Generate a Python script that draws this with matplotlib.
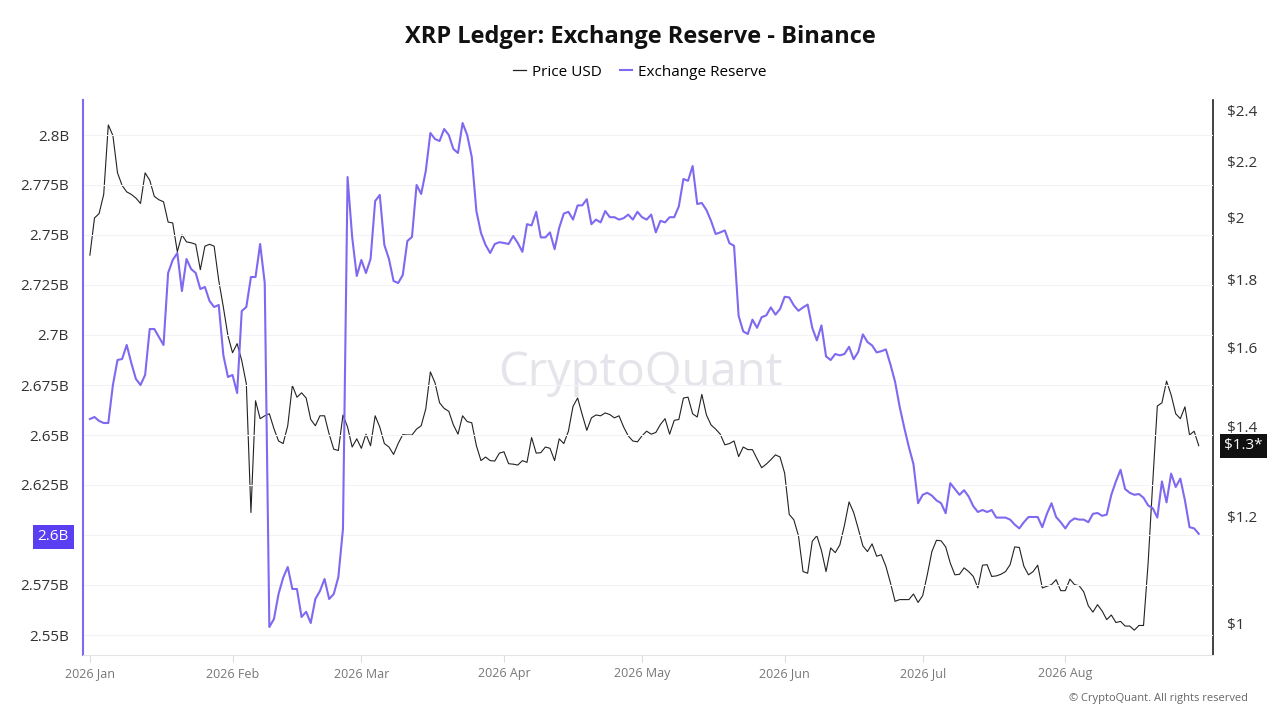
import math
import numpy as np
import pandas as pd
import matplotlib
matplotlib.use("Agg")
import matplotlib.pyplot as plt
import matplotlib.dates as mdates
from matplotlib.ticker import FixedLocator, FuncFormatter, NullLocator

plt.rcParams['font.family'] = ['Open Sans', 'DejaVu Sans']

# daily values, 2026-01-01 .. 2026-08-30
reserve_b = [
    2.658, 2.659, 2.657, 2.656, 2.656, 2.675, 2.6875, 2.688, 2.695, 2.686,
    2.678, 2.675, 2.680, 2.703, 2.703, 2.699, 2.695, 2.731, 2.7375, 2.741,
    2.722, 2.738, 2.733, 2.731, 2.723, 2.724, 2.717, 2.714, 2.715, 2.690,
    2.679, 2.680, 2.671, 2.712, 2.714, 2.729, 2.729, 2.7455, 2.726, 2.554,
    2.558, 2.5705, 2.5786, 2.584, 2.573, 2.573, 2.559, 2.5616, 2.556, 2.568,
    2.572, 2.578, 2.568, 2.5705, 2.579, 2.603, 2.779, 2.749, 2.7295, 2.7375,
    2.731, 2.738, 2.767, 2.770, 2.745, 2.738, 2.727, 2.726, 2.730, 2.747,
    2.749, 2.775, 2.7705, 2.782, 2.801, 2.798, 2.797, 2.803, 2.800, 2.793,
    2.791, 2.806, 2.800, 2.789, 2.762, 2.751, 2.745, 2.741, 2.7455, 2.7464,
    2.746, 2.7455, 2.7495, 2.746, 2.7416, 2.7554, 2.7548, 2.7616, 2.7488, 2.7488,
    2.7513, 2.7429, 2.7536, 2.7607, 2.7616, 2.7577, 2.7648, 2.7648, 2.7679, 2.7554,
    2.7577, 2.7563, 2.762, 2.7589, 2.7589, 2.7577, 2.7584, 2.7602, 2.7577, 2.7616,
    2.7589, 2.7577, 2.7602, 2.7513, 2.7571, 2.7563, 2.7589, 2.7589, 2.7643, 2.778,
    2.7771, 2.7845, 2.7655, 2.766, 2.7625, 2.7571, 2.7505, 2.7513, 2.7523, 2.7459,
    2.7446, 2.7095, 2.7018, 2.7005, 2.7077, 2.7036, 2.7089, 2.7098, 2.7138, 2.7102,
    2.713, 2.7191, 2.7188, 2.7148, 2.7121, 2.7138, 2.7152, 2.7036, 2.6973, 2.7048,
    2.6893, 2.6875, 2.6905, 2.6898, 2.6905, 2.6941, 2.6879, 2.6916, 2.7003, 2.6965,
    2.6948, 2.6913, 2.6919, 2.6928, 2.6852, 2.6766, 2.6641, 2.6536, 2.644, 2.6354,
    2.6159, 2.6201, 2.6211, 2.6197, 2.6173, 2.6159, 2.6109, 2.6259, 2.623, 2.6201,
    2.6224, 2.6192, 2.6144, 2.6115, 2.6125, 2.6115, 2.6125, 2.6087, 2.6087, 2.6087,
    2.6077, 2.6052, 2.6033, 2.6064, 2.609, 2.609, 2.609, 2.6039, 2.6106, 2.6159,
    2.609, 2.6064, 2.6033, 2.6067, 2.6083, 2.6077, 2.6077, 2.6064, 2.6106, 2.611,
    2.6096, 2.6102, 2.6201, 2.6268, 2.6326, 2.623, 2.6211, 2.6201, 2.6205, 2.6186,
    2.6148, 2.6134, 2.6087, 2.6268, 2.6163, 2.6307, 2.624, 2.6282, 2.6173, 2.6039,
    2.6033, 2.6006,
]

price_usd = [
    1.875, 1.998, 2.013, 2.080, 2.342, 2.300, 2.158, 2.112, 2.089, 2.080,
    2.067, 2.048, 2.158, 2.131, 2.073, 2.061, 2.054, 1.984, 1.981, 1.886,
    1.941, 1.918, 1.915, 1.910, 1.829, 1.904, 1.910, 1.904, 1.796, 1.716,
    1.634, 1.587, 1.612, 1.566, 1.505, 1.208, 1.462, 1.418, 1.425, 1.430,
    1.394, 1.365, 1.359, 1.401, 1.501, 1.471, 1.482, 1.469, 1.416, 1.401,
    1.425, 1.425, 1.381, 1.346, 1.343, 1.427, 1.398, 1.351, 1.370, 1.348,
    1.381, 1.354, 1.425, 1.398, 1.359, 1.351, 1.334, 1.359, 1.380, 1.379,
    1.379, 1.393, 1.401, 1.442, 1.536, 1.508, 1.457, 1.443, 1.436, 1.403,
    1.381, 1.425, 1.411, 1.408, 1.354, 1.320, 1.328, 1.320, 1.319, 1.337,
    1.340, 1.313, 1.312, 1.310, 1.320, 1.316, 1.373, 1.337, 1.338, 1.351,
    1.348, 1.320, 1.370, 1.359, 1.388, 1.448, 1.469, 1.428, 1.390, 1.420,
    1.427, 1.425, 1.432, 1.428, 1.420, 1.425, 1.398, 1.377, 1.365, 1.363,
    1.377, 1.388, 1.381, 1.385, 1.404, 1.418, 1.381, 1.414, 1.416, 1.469,
    1.471, 1.430, 1.422, 1.478, 1.427, 1.403, 1.393, 1.381, 1.356, 1.359,
    1.365, 1.329, 1.351, 1.345, 1.345, 1.324, 1.304, 1.312, 1.322, 1.333,
    1.328, 1.292, 1.204, 1.193, 1.161, 1.092, 1.089, 1.150, 1.161, 1.132,
    1.092, 1.137, 1.128, 1.143, 1.182, 1.230, 1.208, 1.175, 1.141, 1.130,
    1.145, 1.121, 1.124, 1.102, 1.071, 1.038, 1.041, 1.041, 1.041, 1.051,
    1.036, 1.048, 1.086, 1.130, 1.152, 1.151, 1.139, 1.108, 1.086, 1.087,
    1.099, 1.092, 1.083, 1.062, 1.104, 1.105, 1.083, 1.084, 1.087, 1.092,
    1.105, 1.139, 1.138, 1.102, 1.086, 1.092, 1.104, 1.062, 1.065, 1.068,
    1.077, 1.057, 1.057, 1.078, 1.068, 1.066, 1.055, 1.030, 1.019, 1.032,
    1.021, 1.006, 1.014, 1.001, 1.003, 0.995, 0.995, 0.988, 0.996, 0.996,
    1.108, 1.271, 1.449, 1.457, 1.512, 1.477, 1.430, 1.418, 1.447, 1.379,
    1.388, 1.354,
]

dates = pd.date_range("2026-01-01", periods=len(price_usd), freq="D")
reserve_ticks = [2.55, 2.575, 2.6, 2.625, 2.65, 2.675, 2.7, 2.725, 2.75, 2.775, 2.8]
price_ticks = [1.0, 1.2, 1.4, 1.6, 1.8, 2.0, 2.2, 2.4]

purple = '#8068f0'
fig = plt.figure(figsize=(12.8, 7.2), dpi=100)
ax = fig.add_axes([83 / 1280, 65 / 720, 1130 / 1280, 555 / 720])
ax2 = ax.twinx()

ax.plot(dates, reserve_b, color=purple, lw=1.5, zorder=3)
ax2.plot(dates, price_usd, color='#222222', lw=0.8, zorder=2)
ax.set_zorder(ax2.get_zorder() + 1)
ax.patch.set_visible(False)

ax.set_xlim(pd.Timestamp("2026-01-01") - pd.Timedelta(days=1.5),
            pd.Timestamp("2026-01-01") + pd.Timedelta(days=244.1))
ax.set_ylim(2.5400, 2.8175)
ax2.set_yscale('log')
ax2.set_ylim(0.947, 2.444)

ax.yaxis.set_major_locator(FixedLocator(reserve_ticks))
ax.yaxis.set_major_formatter(FuncFormatter(lambda v, p: f"{v:g}B"))
ax2.yaxis.set_major_locator(FixedLocator(price_ticks))
ax2.yaxis.set_minor_locator(NullLocator())
ax2.yaxis.set_major_formatter(FuncFormatter(lambda v, p: f"${v:g}"))

ax.xaxis.set_major_locator(mdates.MonthLocator(bymonth=range(1, 9)))
ax.xaxis.set_major_formatter(mdates.DateFormatter('%Y %b'))

ax.grid(axis='y', color='#f2f2f7', lw=0.8)
ax.tick_params(axis='y', length=0, labelsize=11, colors='#333333', pad=10)
ax2.tick_params(axis='y', length=0, labelsize=11, colors='#333333', pad=10)
ax.tick_params(axis='x', length=5, color='#dddddd', labelsize=9, labelcolor='#777777', pad=4)

ax.spines['top'].set_visible(False)
ax2.spines['top'].set_visible(False)
ax.spines['left'].set_color(purple)
ax.spines['left'].set_linewidth(1.5)
ax2.spines['left'].set_visible(False)
ax.spines['right'].set_visible(False)
ax2.spines['right'].set_color('#222222')
ax2.spines['right'].set_linewidth(1.2)
ax.spines['bottom'].set_color('#e3e3e3')
ax2.spines['bottom'].set_visible(False)

# highlight box on the 2.6B label
for lab in ax.get_yticklabels():
    if lab.get_text() == '2.6B':
        lab.set_color('white')
        lab.set_bbox(dict(boxstyle='square,pad=0.3', fc='#5a3ef2', ec='none'))

# current price badge
last = price_usd[-1]
ax2.annotate(f"${math.floor(last * 10) / 10:g}*", xy=(1.0, last), xycoords=('axes fraction', 'data'),
             xytext=(8, 0), textcoords='offset points', va='center', ha='left',
             fontsize=11, color='white',
             bbox=dict(boxstyle='square,pad=0.3', fc='#111111', ec='none'), zorder=5)

fig.text(0.5, 1 - 37 / 720, "XRP Ledger: Exchange Reserve - Binance", ha='center', va='center',
         fontsize=17, fontweight='bold', color='#111111')
ax.plot([], [], color='#222222', lw=0.9, label='Price USD')
ax.plot([], [], color=purple, lw=1.5, label='Exchange Reserve')
fig.legend(*ax.get_legend_handles_labels(), loc='center', bbox_to_anchor=(0.5, 1 - 72 / 720),
           ncol=2, frameon=False, fontsize=11, handlelength=0.8, handletextpad=0.4, columnspacing=1.2)
fig.text(0.5, 1 - 373 / 720, "CryptoQuant", ha='center', va='center', fontsize=34,
         color='#e4e4ea', zorder=0)
fig.text(1 - 32 / 1280, 1 - 698 / 720, "© CryptoQuant. All rights reserved", ha='right',
         va='center', fontsize=8, color='#666666')

fig.savefig("out.png", dpi=100)
